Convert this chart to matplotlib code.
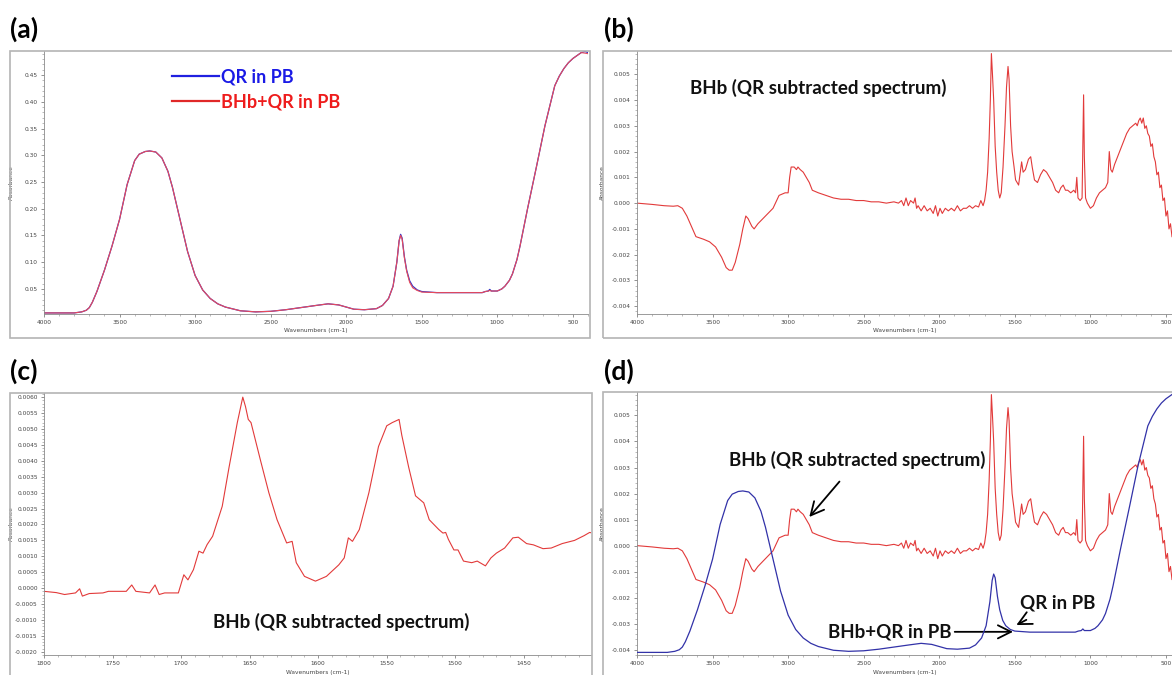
import matplotlib.pyplot as plt
from matplotlib.patches import Rectangle
from matplotlib.ticker import MultipleLocator, FormatStrFormatter

# QR in PB / BHb+QR in PB (panel a, blue curve of panel d)
qr_wn = [4000, 3900, 3800, 3750, 3720, 3700, 3680, 3650, 3600, 3550, 3500,
         3450, 3400, 3370, 3330, 3300, 3260, 3220, 3180, 3150, 3100, 3050,
         3000, 2950, 2900, 2850, 2800, 2700, 2600, 2500, 2400, 2300, 2200,
         2120, 2050, 2000, 1950, 1880, 1800, 1760, 1720, 1690, 1665, 1650,
         1640, 1630, 1615, 1600, 1580, 1560, 1530, 1500, 1400, 1300, 1200,
         1100, 1080, 1060, 1050, 1040, 1000, 970, 950, 920, 900, 870, 850,
         800, 740, 685, 620, 590, 560, 530, 500, 470, 445, 420, 400]
qr_abs = [0.005, 0.005, 0.005, 0.007, 0.010, 0.015, 0.025, 0.045, 0.085,
          0.130, 0.180, 0.245, 0.290, 0.302, 0.307, 0.308, 0.306, 0.295,
          0.270, 0.240, 0.180, 0.120, 0.075, 0.048, 0.032, 0.022, 0.016,
          0.009, 0.007, 0.008, 0.011, 0.015, 0.019, 0.022, 0.020, 0.016,
          0.012, 0.011, 0.013, 0.019, 0.032, 0.055, 0.100, 0.140, 0.152,
          0.145, 0.110, 0.085, 0.065, 0.055, 0.048, 0.045, 0.043, 0.043,
          0.043, 0.043, 0.045, 0.046, 0.049, 0.046, 0.046, 0.050, 0.055,
          0.066, 0.078, 0.105, 0.130, 0.200, 0.280, 0.355, 0.430, 0.448,
          0.462, 0.473, 0.481, 0.487, 0.492, 0.494, 0.492]
bhb_qr_abs = [0.005, 0.005, 0.005, 0.007, 0.010, 0.015, 0.025, 0.045, 0.085,
              0.130, 0.180, 0.245, 0.290, 0.302, 0.307, 0.308, 0.306, 0.295,
              0.270, 0.240, 0.180, 0.120, 0.075, 0.048, 0.032, 0.022, 0.016,
              0.009, 0.007, 0.008, 0.011, 0.015, 0.019, 0.022, 0.020, 0.016,
              0.012, 0.011, 0.013, 0.019, 0.032, 0.055, 0.100, 0.140, 0.150,
              0.143, 0.108, 0.083, 0.062, 0.052, 0.047, 0.044, 0.043, 0.043,
              0.043, 0.043, 0.045, 0.046, 0.047, 0.046, 0.046, 0.050, 0.055,
              0.066, 0.078, 0.105, 0.130, 0.200, 0.280, 0.355, 0.430, 0.448,
              0.462, 0.473, 0.481, 0.487, 0.492, 0.491, 0.490]

# BHb (QR subtracted spectrum), full range (panels b and d)
sub_wn = [4000, 3900, 3820, 3760, 3730, 3700, 3670, 3640, 3610, 3560, 3520,
          3480, 3440, 3410, 3390, 3370, 3350, 3320, 3300, 3280, 3265, 3240,
          3225, 3200, 3150, 3100, 3060, 3020, 3000, 2990, 2980, 2960, 2945,
          2935, 2920, 2900, 2880, 2860, 2840, 2800, 2750, 2700, 2650, 2600,
          2550, 2500, 2450, 2400, 2350, 2300, 2270, 2250, 2235, 2220, 2205,
          2190, 2170, 2160, 2150, 2140, 2120, 2100, 2080, 2060, 2040, 2025,
          2010, 1995, 1980, 1960, 1940, 1920, 1900, 1880, 1860, 1840, 1820,
          1800, 1780, 1760, 1740, 1725, 1710, 1700, 1690, 1680, 1670, 1662,
          1655, 1648, 1640, 1630, 1620, 1610, 1600, 1590, 1578, 1565, 1555,
          1545, 1538, 1528, 1518, 1505, 1495, 1485, 1475, 1462, 1455, 1445,
          1430, 1410, 1395, 1385, 1370, 1350, 1330, 1310, 1290, 1270, 1250,
          1230, 1210, 1195, 1180, 1165, 1150, 1130, 1110, 1098, 1090, 1082,
          1068, 1055, 1045, 1040, 1032, 1020, 1000, 980, 960, 940, 920, 900,
          885, 875, 865, 855, 840, 820, 800, 780, 760, 740, 720, 700, 690,
          680, 670, 660, 650, 640, 630, 620, 610, 600, 590, 580, 570, 560,
          550, 540, 530, 520, 510, 500, 490, 480, 470, 460]
sub_abs = [0.0000, -0.00005, -0.0001, -0.00012, -0.0001, -0.0002, -0.0005,
           -0.0009, -0.0013, -0.0014, -0.0015, -0.0017, -0.0021, -0.0025,
           -0.0026, -0.0026, -0.0023, -0.0016, -0.0010, -0.0005, -0.0006,
           -0.0009, -0.0010, -0.0008, -0.0005, -0.0002, 0.0003, 0.0004,
           0.0004, 0.0010, 0.0014, 0.0014, 0.0013, 0.0014, 0.0013, 0.0012,
           0.0010, 0.0008, 0.0005, 0.0004, 0.0003, 0.0002, 0.00015, 0.00015,
           0.0001, 0.0001, 0.00005, 0.00005, 0.0000, 0.00005, 0.0000, 0.0001,
           -0.0001, 0.0002, -0.0001, 0.0001, 0.0000, 0.0002, -0.0002, -0.0001,
           -0.0003, -0.0001, -0.0003, -0.0002, -0.0004, -0.0001, -0.0005,
           -0.0002, -0.0004, -0.0002, -0.0003, -0.0002, -0.0003, -0.0001,
           -0.0003, -0.0002, -0.0002, -0.0001, -0.0002, -0.0001, -0.00015,
           0.0001, -0.0001, 0.0001, 0.0005, 0.0012, 0.0025, 0.0040, 0.0058,
           0.0050, 0.0040, 0.0022, 0.0012, 0.0005, 0.0002, 0.0004, 0.0014,
           0.0030, 0.0045, 0.0053, 0.0048, 0.0030, 0.0020, 0.0014, 0.0009,
           0.0008, 0.0007, 0.0013, 0.0016, 0.0012, 0.0013, 0.0017, 0.0018,
           0.0014, 0.0009, 0.0008, 0.0011, 0.0013, 0.0012, 0.0010, 0.0008,
           0.0005, 0.0004, 0.0006, 0.0007, 0.0005, 0.0005, 0.0004, 0.0005,
           0.0004, 0.0010, 0.0002, 0.0001, 0.0002, 0.0042, 0.0018, 0.0002,
           0.0000, -0.0002, -0.0001, 0.0002, 0.0004, 0.0005, 0.0006, 0.0008,
           0.0020, 0.0013, 0.0012, 0.0015, 0.0018, 0.0021, 0.0024, 0.0027,
           0.0029, 0.0030, 0.0031, 0.0030, 0.0032, 0.0033, 0.0031, 0.0033,
           0.0029, 0.0030, 0.0027, 0.0026, 0.0022, 0.0023, 0.0018, 0.0016,
           0.0011, 0.0012, 0.0006, 0.0007, 0.0001, 0.0002, -0.0005, -0.0003,
           -0.0010, -0.0008, -0.0013]

# BHb (QR subtracted spectrum), amide region (panel c)
amide_wn = [1800, 1791, 1785, 1777, 1774, 1772, 1767, 1757, 1753, 1748, 1740,
            1736, 1733, 1723, 1719, 1716, 1712, 1702, 1698, 1695, 1691, 1687,
            1684, 1681, 1677, 1670, 1665, 1659, 1655, 1653, 1651, 1649, 1642,
            1636, 1630, 1623, 1619, 1616, 1610, 1602, 1594, 1585, 1581, 1578,
            1575, 1570, 1563, 1556, 1550, 1546, 1541, 1539, 1534, 1529, 1523,
            1519, 1512, 1509, 1507, 1505, 1501, 1498, 1494, 1488, 1484, 1478,
            1474, 1470, 1464, 1458, 1454, 1448, 1443, 1436, 1430, 1422, 1413,
            1406, 1402, 1400]
amide_abs = [-0.0001, -0.00014, -0.0002, -0.00015, -0.00002, -0.00025,
             -0.00017, -0.00015, -0.0001, -0.0001, -0.0001, 0.0001, -0.0001,
             -0.00015, 0.0001, -0.0002, -0.00015, -0.00015, 0.00042, 0.00026,
             0.00058, 0.00116, 0.0011, 0.00137, 0.00163, 0.00257, 0.0038,
             0.0052, 0.0060, 0.0057, 0.0053, 0.0052, 0.0040, 0.0030, 0.00215,
             0.00142, 0.00147, 0.0008, 0.00037, 0.00022, 0.00037, 0.00073,
             0.00095, 0.00158, 0.00147, 0.00184, 0.0030, 0.00445, 0.0051,
             0.0052, 0.0053, 0.0048, 0.0038, 0.0029, 0.00268, 0.00215, 0.00184,
             0.00173, 0.00175, 0.00153, 0.0012, 0.0012, 0.00085, 0.0008,
             0.00085, 0.0007, 0.00095, 0.0011, 0.00126, 0.00158, 0.0016,
             0.0014, 0.00136, 0.00124, 0.00126, 0.0014, 0.0015, 0.00165,
             0.00175, 0.00173]

W, H = 1172, 675
fig = plt.figure(figsize=(W / 100, H / 100), dpi=100)

BOLD = dict(family=['Lato', 'DejaVu Sans'], weight='bold')
RED = '#e23a3a'
NOTE_SIZE = 13.5


def px_axes(left, top, right, bottom):
    return fig.add_axes([left / W, 1 - bottom / H, (right - left) / W,
                         (bottom - top) / H])


def frame(left, top, right, bottom):
    fig.patches.append(Rectangle((left / W, 1 - bottom / H), (right - left) / W,
                                 (bottom - top) / H, transform=fig.transFigure,
                                 fill=False, ec='#b4b4b4', lw=1.2))


def style(ax, xmaj, xmin, ymaj, ymin, yfmt):
    for s in ['top', 'right']:
        ax.spines[s].set_visible(False)
    for s in ['left', 'bottom']:
        ax.spines[s].set_color('#8a8a8a')
        ax.spines[s].set_linewidth(0.6)
    ax.set_facecolor('none')
    ax.xaxis.set_major_locator(MultipleLocator(xmaj))
    ax.xaxis.set_minor_locator(MultipleLocator(xmin))
    ax.yaxis.set_major_locator(MultipleLocator(ymaj))
    ax.yaxis.set_minor_locator(MultipleLocator(ymin))
    ax.yaxis.set_major_formatter(FormatStrFormatter(yfmt))
    ax.xaxis.set_major_formatter(FormatStrFormatter('%d'))
    ax.tick_params(which='major', length=2.5, width=0.5, color='#666',
                   labelsize=4.2, labelcolor='#444', pad=2)
    ax.tick_params(which='minor', length=1.3, width=0.4, color='#888')
    ax.set_xlabel('Wavenumbers (cm-1)', fontsize=4.2, color='#444', labelpad=2)
    ax.set_ylabel('Absorbance', fontsize=4.2, color='#444')
    ax.yaxis.set_label_coords(-0.055, 0.5)


# frames around the four panels
frame(10, 51, 590, 338)
frame(603, 51, 1190, 338)
frame(10, 393, 592, 690)
frame(603, 392, 1190, 690)

for label, x, y in [('(a)', 10, 29), ('(b)', 604, 29), ('(c)', 10, 371), ('(d)', 604, 371)]:
    fig.text(x / W, 1 - y / H, label, fontsize=19, ha='left', va='center', **BOLD)

# (a)
ax_a = px_axes(44, 51, 588, 314)
ax_a.plot(qr_wn, qr_abs, color='#3434c8', lw=0.9, label='QR in PB')
ax_a.plot(qr_wn, bhb_qr_abs, color='#e84a5a', lw=0.8, label='BHb+QR in PB')
ax_a.set_xlim(4000, 400)
ax_a.set_ylim(0.003, 0.495)
style(ax_a, 500, 100, 0.05, 0.01, '%.2f')
leg = ax_a.legend(loc='upper left', bbox_to_anchor=(0.235, 0.935), frameon=False,
                  prop=dict(family=['Lato', 'DejaVu Sans'], weight='bold', size=13),
                  handlelength=2.6, handletextpad=0.15, labelspacing=0.45,
                  borderpad=0, borderaxespad=0)
for h, c in zip(leg.legend_handles, ['#2020e0', '#e02828']):
    h.set_color(c)
    h.set_linewidth(1.6)
for t, c in zip(leg.get_texts(), ['#1a1ae6', '#ee1c1c']):
    t.set_color(c)

# (b)
ax_b = px_axes(637, 51, 1172, 314)
ax_b.plot(sub_wn, sub_abs, color=RED, lw=0.8)
ax_b.set_xlim(4000, 460)
ax_b.set_ylim(-0.0043, 0.0059)
style(ax_b, 500, 100, 0.001, 0.0002, '%.3f')
ax_b.yaxis.set_label_coords(-0.06, 0.5)
ax_b.text(0.338, 0.86, 'BHb (QR subtracted spectrum)', transform=ax_b.transAxes,
          fontsize=NOTE_SIZE, ha='center', va='center', color='#111', **BOLD)

# (c)
ax_c = px_axes(44, 393, 591, 655)
ax_c.plot(amide_wn, amide_abs, color=RED, lw=0.8)
ax_c.set_xlim(1800, 1401)
ax_c.set_ylim(-0.0021, 0.00613)
style(ax_c, 50, 10, 0.0005, 0.0001, '%.4f')
ax_c.set_xlabel('Wavenumbers (cm-1)', fontsize=4.2, color='#444', labelpad=3)
ax_c.text(0.543, 0.125, 'BHb (QR subtracted spectrum)', transform=ax_c.transAxes,
          fontsize=NOTE_SIZE, ha='center', va='center', color='#111', **BOLD)

# (d)
ax_d = px_axes(637, 392, 1172, 655)
ax_d.plot(sub_wn, sub_abs, color=RED, lw=0.8)
ax_d.set_xlim(4000, 460)
ax_d.set_ylim(-0.0042, 0.0059)
style(ax_d, 500, 100, 0.001, 0.0002, '%.3f')
ax_d.yaxis.set_label_coords(-0.06, 0.5)
ax_d.set_xlabel('Wavenumbers (cm-1)', fontsize=4.2, color='#444', labelpad=3)
ax_t = ax_d.twinx()
ax_t.plot(qr_wn, qr_abs, color='#3232a8', lw=0.9)
ax_t.set_ylim(0.0001, 0.4937)
ax_t.set_xlim(4000, 460)
ax_t.axis('off')

arrow = dict(arrowstyle='->,head_length=0.7,head_width=0.35', color='black', lw=1.3)
ax_d.annotate('BHb (QR subtracted spectrum)', xy=(2860, 0.0011), xytext=(2540, 0.00328),
              fontsize=NOTE_SIZE, ha='center', va='center', color='#111',
              arrowprops=dict(arrow, shrinkA=9, shrinkB=0), **BOLD)
ax_d.annotate('QR in PB', xy=(1490, -0.00305), xytext=(1215, -0.00222),
              fontsize=NOTE_SIZE, ha='center', va='center', color='#111',
              arrowprops=dict(arrow, shrinkA=8, shrinkB=0), **BOLD)
ax_d.annotate('BHb+QR in PB', xy=(1512, -0.00331), xytext=(1916, -0.00331),
              fontsize=NOTE_SIZE, ha='right', va='center', color='#111',
              arrowprops=dict(arrow, shrinkA=0, shrinkB=0), **BOLD)

fig.savefig('out.png', dpi=100)
